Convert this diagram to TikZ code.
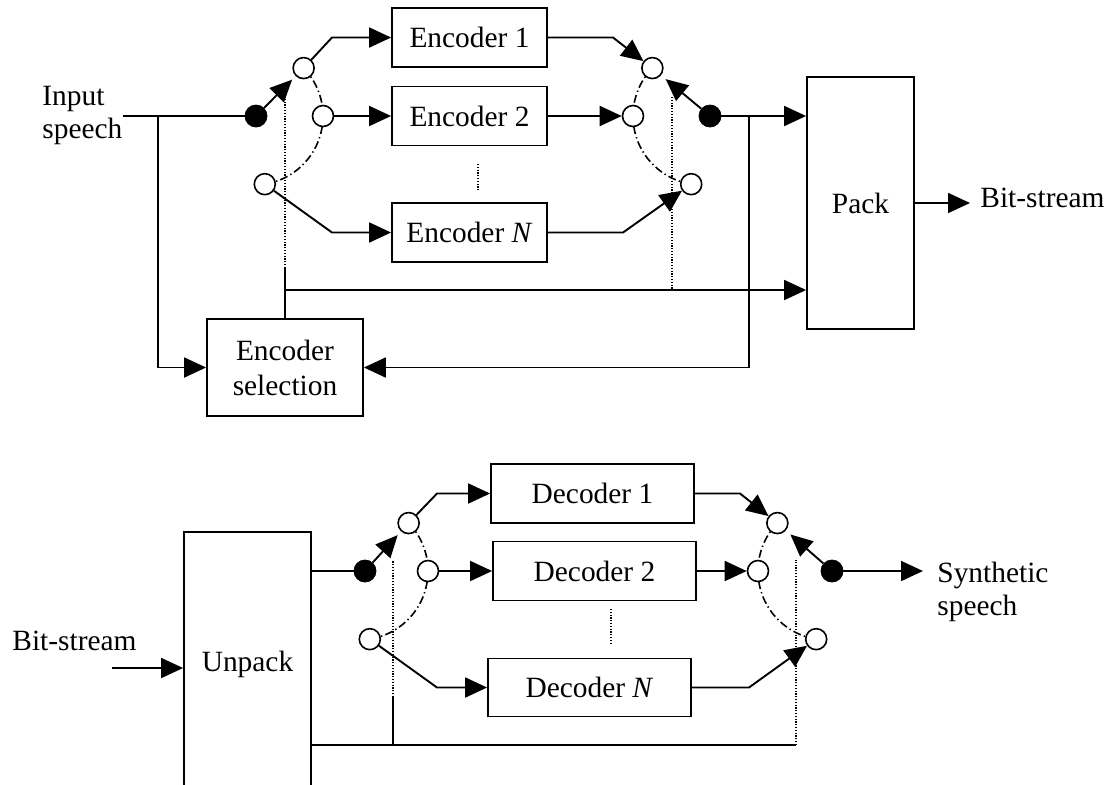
\documentclass[tikz,border=0pt]{standalone}
\usepackage{fontspec}
\setmainfont{Liberation Serif}
\usetikzlibrary{arrows.meta,calc}
\tikzset{
  lw/.style={line width=0.95pt},
  arr/.style={line width=0.95pt,-{Triangle[length=11pt,width=10pt]}},
  box/.style={draw,line width=0.9pt,rectangle,inner sep=0pt,align=center,font=\fontsize{14.7pt}{17.5pt}\selectfont},
  oc/.style={draw,circle,fill=white,line width=0.8pt,minimum size=10.5pt,inner sep=0pt},
  fc/.style={draw,circle,fill=black,minimum size=11pt,inner sep=0pt},
  lbl/.style={inner sep=0pt,align=left,font=\fontsize{14.7pt}{16.5pt}\selectfont},
  dd/.style={line width=0.8pt,dash pattern=on 4pt off 1.6pt on 0.7pt off 1.6pt},
  dt/.style={line width=0.6pt,dash pattern=on 0.6pt off 0.8pt},
}
\begin{document}
\begin{tikzpicture}[x=0.5pt,y=-0.5pt]
\clip (0,0) rectangle (1110,784);
% ---------- boxes ----------
\node[box,minimum width=77.5pt,minimum height=29.5pt] (enc1) at (469.5,37.5) {Encoder 1};
\node[box,minimum width=77.5pt,minimum height=29.5pt] (enc2) at (469.5,116) {Encoder 2};
\node[box,minimum width=77.5pt,minimum height=29.5pt] (encN) at (469.5,232.5) {Encoder \textit{N}};
\node[box,minimum width=78pt,minimum height=48.5pt] (sel) at (285,367.5) {Encoder\\selection};
\node[box,minimum width=53.5pt,minimum height=126pt] (pack) at (860.5,203) {Pack};
\node[box,minimum width=63.5pt,minimum height=132pt] (unpack) at (247.5,664) {Unpack};
\node[box,minimum width=101.5pt,minimum height=29.5pt] (dec1) at (592.5,493.5) {Decoder 1};
\node[box,minimum width=101.5pt,minimum height=29.5pt] (dec2) at (594.5,571) {Decoder 2};
\node[box,minimum width=101.5pt,minimum height=29pt] (decN) at (589.5,687.5) {Decoder \textit{N}};
% ---------- top-left switch ----------
\coordinate (oTL) at (254,116);
\coordinate (cL1) at ($(oTL)+(-44:69)$);
\coordinate (cL2) at ($(oTL)+(0:69)$);
\coordinate (cL3) at ($(oTL)+(81:69)$);
\draw[dd] (cL1) arc[start angle=-44,end angle=81,radius=69];
\node[oc] (L1) at (cL1) {};
\node[oc] (L2) at (cL2) {};
\node[oc] (L3) at (cL3) {};
\node[fc] (PL) at (256,116) {};
% ---------- top-right switch ----------
\coordinate (oTR) at (702,116);
\coordinate (cR1) at ($(oTR)+(224:69)$);
\coordinate (cR2) at ($(oTR)+(180:69)$);
\coordinate (cR3) at ($(oTR)+(99:69)$);
\draw[dd] (cR1) arc[start angle=224,end angle=99,radius=69];
\node[oc] (R1) at (cR1) {};
\node[oc] (R2) at (cR2) {};
\node[oc] (R3) at (cR3) {};
\node[fc] (PR) at (710,116) {};
% ---------- top texts ----------
\node[lbl,anchor=west] (inp) at (42,115) {Input\\speech};
\node[lbl,anchor=base west] (bs1) at (980,207) {Bit-stream};
% ---------- top connectors ----------
\coordinate (jL) at (158,116);
\draw[lw] (inp.east |- PL) -- (PL);
\draw[arr] (jL) |- (sel.west);
\draw[arr,shorten >=2.5pt] (PL) -- (L1);
\coordinate (k1) at (332,37.5);
\draw[arr] (L1) -- (k1) -- (enc1.west);
\draw[arr] (L2) -- (L2 -| enc2.west);
\coordinate (k3) at (332,232.5);
\draw[arr] (L3) -- (k3) -- (encN.west);
\coordinate (k4) at (613,37.5);
\draw[arr] (enc1.east) -- (k4) -- (R1);
\draw[arr] (enc2.east) -- (R2);
\coordinate (k6) at (623,232.5);
\draw[arr] (encN.east) -- (k6) -- (R3);
\draw[arr,shorten >=3pt] (PR) -- (R1);
\draw[arr] (PR) -- (PR -| pack.west);
\coordinate (jR) at (749,116);
\draw[arr] (jR) |- (sel.east);
\coordinate (sT) at (285,268);
\coordinate (sD) at (285,97);
\coordinate (jS) at (285,290);
\draw[lw] (sel.north) -- (sT);
\draw[dt] (sT) -- (sD);
\draw[arr] (jS) -- (jS -| pack.west);
\coordinate (rD) at (672,97);
\coordinate (rB) at (672,290);
\draw[dt] (rD) -- (rB);
\coordinate (e1) at (478,164);
\coordinate (e2) at (478,190);
\draw[dt] (e1) -- (e2);
\coordinate (bsO) at (970,203);
\draw[arr] (pack.east) -- (bsO);
% ---------- bottom-left switch ----------
\coordinate (oBL) at (359,571);
\coordinate (cB1) at ($(oBL)+(-44:69)$);
\coordinate (cB2) at ($(oBL)+(0:69)$);
\coordinate (cB3) at ($(oBL)+(81:69)$);
\draw[dd] (cB1) arc[start angle=-44,end angle=81,radius=69];
\node[oc] (B1) at (cB1) {};
\node[oc] (B2) at (cB2) {};
\node[oc] (B3) at (cB3) {};
\node[fc] (PB) at (365,571) {};
% ---------- bottom-right switch ----------
\coordinate (oBR) at (827,571);
\coordinate (cS1) at ($(oBR)+(224:69)$);
\coordinate (cS2) at ($(oBR)+(180:69)$);
\coordinate (cS3) at ($(oBR)+(99:69)$);
\draw[dd] (cS1) arc[start angle=224,end angle=99,radius=69];
\node[oc] (S1) at (cS1) {};
\node[oc] (S2) at (cS2) {};
\node[oc] (S3) at (cS3) {};
\node[fc] (PS) at (832,571) {};
% ---------- bottom texts ----------
\node[lbl,anchor=base west] (bs2) at (12,650) {Bit-stream};
\node[lbl,anchor=west] (syn) at (937,592) {Synthetic\\speech};
% ---------- bottom connectors ----------
\coordinate (bsI) at (112,668);
\draw[arr] (bsI) -- (bsI -| unpack.west);
\draw[lw] (PB -| unpack.east) -- (PB);
\draw[arr,shorten >=2.5pt] (PB) -- (B1);
\coordinate (k7) at (437,493.5);
\draw[arr] (B1) -- (k7) -- (dec1.west);
\draw[arr] (B2) -- (B2 -| dec2.west);
\coordinate (k9) at (437,687.5);
\draw[arr] (B3) -- (k9) -- (decN.west);
\coordinate (k10) at (740,493.5);
\draw[arr] (dec1.east) -- (k10) -- (S1);
\draw[arr] (dec2.east) -- (S2);
\coordinate (k12) at (749,687.5);
\draw[arr] (decN.east) -- (k12) -- (S3);
\draw[arr,shorten >=3pt] (PS) -- (S1);
\coordinate (synI) at (923,571);
\draw[arr] (PS) -- (synI);
\coordinate (bR) at (796,745);
\coordinate (bRt) at (796,560);
\coordinate (bL) at (393,745);
\coordinate (bLs) at (393,697);
\coordinate (bLt) at (393,560);
\draw[lw] (unpack.east |- bR) -- (bR);
\draw[dt] (bR) -- (bRt);
\draw[lw] (bL) -- (bLs);
\draw[dt] (bLs) -- (bLt);
\coordinate (d1) at (611,609);
\coordinate (d2) at (611,645);
\draw[dt] (d1) -- (d2);
\end{tikzpicture}
\end{document}
